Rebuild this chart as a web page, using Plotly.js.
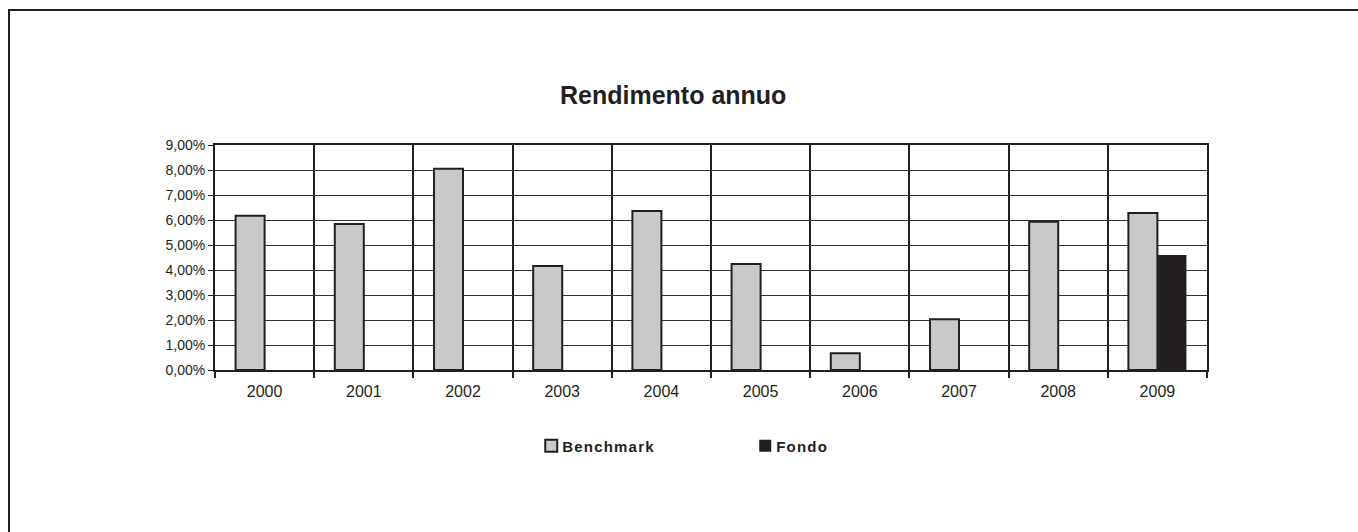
<!DOCTYPE html>
<html>
<head>
<meta charset="utf-8">
<script src="https://cdn.plot.ly/plotly-3.0.1.min.js"></script>
<style>
  html, body { margin: 0; padding: 0; background: #fff; }
  #wrap { position: absolute; left: 8px; top: 9px; width: 1350px; height: 523px;
          border-top: 2px solid #231f20; border-left: 2px solid #231f20; }
  #chart { width: 1348px; height: 521px; }
  .legendtext { letter-spacing: 1.2px; }
  .legendpoints { transform: translate(9px, 0px); }
</style>
</head>
<body>
<div id="wrap"><div id="chart"></div></div>
<script>
const years = ['2000','2001','2002','2003','2004','2005','2006','2007','2008','2009'];
const benchmark = [0.0617, 0.0584, 0.0805, 0.0416, 0.0636, 0.0424, 0.0067, 0.0203, 0.0593, 0.0628];
const fondo = [null, null, null, null, null, null, null, null, null, 0.0460];
const yTicks = [0, 0.01, 0.02, 0.03, 0.04, 0.05, 0.06, 0.07, 0.08, 0.09];

const ink = '#231f20';
const font = 'Liberation Sans, Arial, Helvetica, sans-serif';

const traces = [
  { type: 'bar', name: 'Benchmark', x: years, y: benchmark,
    marker: { color: '#c8c9ca', line: { color: ink, width: 2 } }, hoverinfo: 'x+y' },
  { type: 'bar', name: 'Fondo', x: years, y: fondo,
    marker: { color: ink, line: { color: ink, width: 0 } }, hoverinfo: 'x+y' }
];

const layout = {
  width: 1348, height: 521,
  margin: { l: 205, r: 151, t: 134, b: 162 },
  paper_bgcolor: '#fff', plot_bgcolor: '#fff',
  separators: ',.',
  font: { family: font, color: ink },
  title: { text: '<b>Rendimento annuo</b>', font: { size: 25, family: font, color: ink },
           x: 0.492, xanchor: 'center', xref: 'container', y: 0.838, yanchor: 'middle', yref: 'container' },
  barmode: 'group', bargap: 0.415, bargroupgap: 0,
  xaxis: {
    type: 'category', tickson: 'boundaries', showgrid: true, gridcolor: ink, gridwidth: 2,
    ticks: 'outside', ticklen: 6, tickcolor: ink, tickwidth: 2, ticklabelstandoff: 6,
    showline: true, linecolor: ink, linewidth: 2, mirror: true,
    tickfont: { size: 16, color: ink, family: font }, fixedrange: true
  },
  yaxis: {
    range: [0, 0.09], tickvals: yTicks, tickformat: '.2%',
    showgrid: true, gridcolor: '#333', gridwidth: 1, zeroline: false,
    ticks: 'outside', ticklen: 5, tickcolor: ink, tickwidth: 1,
    showline: true, linecolor: ink, linewidth: 2, mirror: true,
    tickfont: { size: 14, color: ink, family: font }, fixedrange: true
  },
  showlegend: true,
  legend: {
    orientation: 'h', x: 0.380, xanchor: 'left', xref: 'container',
    y: 0.165, yanchor: 'middle', yref: 'container',
    font: { size: 15, color: ink, family: font, weight: 'bold' },
    entrywidth: 169, itemsizing: 'constant', bgcolor: 'rgba(0,0,0,0)'
  }
};

Plotly.newPlot('chart', traces, layout, { displayModeBar: false, staticPlot: true });
</script>
</body>
</html>
